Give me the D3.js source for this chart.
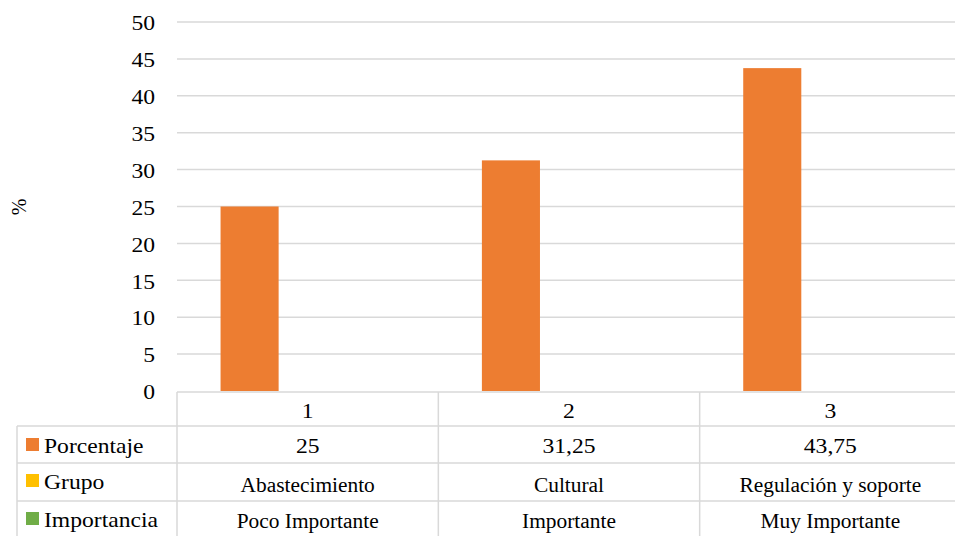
<!DOCTYPE html>
<html>
<head>
<meta charset="utf-8">
<script src="https://cdn.jsdelivr.net/npm/d3@7/dist/d3.min.js"></script>
<style>
  html, body { margin: 0; padding: 0; background: #fff; }
  svg { display: block; }
  svg text { font-family: "Liberation Serif", "Times New Roman", serif; font-size: 20px; fill: #000; }
</style>
</head>
<body>
<div class="main"></div>
<script>
(function() {
  'use strict';

  // chart data
  var categories = ["1", "2", "3"];
  var seriesNames = ["Porcentaje", "Grupo", "Importancia"];
  var seriesColors = ["#ED7D31", "#FFC000", "#70AD47"];
  var porcentaje = [25, 31.25, 43.75];
  var porcentajeLabels = ["25", "31,25", "43,75"];
  var grupo = ["Abastecimiento", "Cultural", "Regulación y soporte"];
  var importancia = ["Poco Importante", "Importante", "Muy Importante"];
  var yTicks = [0, 5, 10, 15, 20, 25, 30, 35, 40, 45, 50];

  var width = 955, height = 536;
  var left = 177, right = 961, top = 22, bottom = 391;
  var gridColor = "#d9d9d9";
  // the source image is a bit stretched sideways
  var bigScale = "scale(1.18,1.1)";
  var smallScale = "scale(1.07,1)";

  var svg = d3.select(".main")
    .append("svg")
      .attr("width", width)
      .attr("height", height);

  var x0 = d3.scaleBand()
    .domain(categories)
    .range([left, right])
    .padding(0);

  var x1 = d3.scaleBand()
    .domain(seriesNames)
    .range([0, x0.bandwidth()])
    .paddingInner(0)
    .paddingOuter(0.75);

  var y = d3.scaleLinear()
    .domain([0, 50])
    .range([bottom, top]);

  // gridlines
  svg.append("g")
    .selectAll("line")
    .data(yTicks.filter(function(d) { return d > 0; }))
    .enter().append("line")
      .attr("x1", left)
      .attr("x2", right)
      .attr("y1", function(d) { return y(d); })
      .attr("y2", function(d) { return y(d); })
      .style("stroke", gridColor)
      .style("stroke-width", 1.5);

  // y axis labels
  var yAxis = d3.axisLeft(y).tickValues(yTicks).tickSize(0).tickPadding(0);
  var ya = svg.append("g")
    .attr("transform", "translate(155,0)")
    .call(yAxis)
    .attr("font-family", null)
    .attr("font-size", null);
  ya.select(".domain").remove();
  ya.selectAll("text")
    .attr("x", 0)
    .attr("dy", "0.35em")
    .attr("transform", bigScale);

  svg.append("text")
    .attr("transform", "translate(26,207) rotate(-90)")
    .style("text-anchor", "middle")
    .text("%");

  // bars (only Porcentaje has values)
  svg.append("g")
    .selectAll("rect")
    .data(porcentaje)
    .enter().append("rect")
      .attr("x", function(d, i) { return x0(categories[i]) + x1("Porcentaje"); })
      .attr("y", function(d) { return y(d); })
      .attr("width", x1.bandwidth())
      .attr("height", function(d) { return y(0) - y(d); })
      .style("fill", seriesColors[0]);

  // data table
  var rowLines = [392, 426, 463, 501];
  var tableBottom = 540;
  var tableLeft = 17;
  var t = svg.append("g");

  t.append("line")
    .attr("x1", left).attr("x2", right)
    .attr("y1", rowLines[0]).attr("y2", rowLines[0])
    .style("stroke", gridColor).style("stroke-width", 1.5);
  rowLines.slice(1).forEach(function(yy) {
    t.append("line")
      .attr("x1", tableLeft).attr("x2", right)
      .attr("y1", yy).attr("y2", yy)
      .style("stroke", gridColor).style("stroke-width", 1.5);
  });
  t.append("line")
    .attr("x1", tableLeft).attr("x2", tableLeft)
    .attr("y1", rowLines[1]).attr("y2", tableBottom)
    .style("stroke", gridColor).style("stroke-width", 1.5);
  categories.forEach(function(c) {
    t.append("line")
      .attr("x1", x0(c)).attr("x2", x0(c))
      .attr("y1", rowLines[0]).attr("y2", tableBottom)
      .style("stroke", gridColor).style("stroke-width", 1.5);
  });

  function cx(c) { return x0(c) + x0.bandwidth() / 2; }

  // header row
  t.selectAll(".hdr").data(categories).enter().append("text")
    .attr("class", "hdr")
    .attr("transform", function(d) { return "translate(" + cx(d) + ",418)" + bigScale; })
    .style("text-anchor", "middle")
    .text(function(d) { return d; });

  var rows = [
    { labels: porcentajeLabels, base: 453, scale: bigScale },
    { labels: grupo, base: 492, scale: smallScale },
    { labels: importancia, base: 528, scale: smallScale }
  ];
  var legendBase = [453, 489, 527];

  rows.forEach(function(r, ri) {
    t.selectAll(".r" + ri).data(r.labels).enter().append("text")
      .attr("class", "r" + ri)
      .attr("transform", function(d, i) {
        return "translate(" + cx(categories[i]) + "," + r.base + ")" + r.scale;
      })
      .style("text-anchor", "middle")
      .text(function(d) { return d; });

    t.append("rect")
      .attr("x", 26)
      .attr("y", legendBase[ri] - 15)
      .attr("width", 13)
      .attr("height", 13)
      .style("fill", seriesColors[ri]);
    t.append("text")
      .attr("transform", "translate(44," + legendBase[ri] + ")" + bigScale)
      .text(seriesNames[ri]);
  });

})();
</script>
</body>
</html>
